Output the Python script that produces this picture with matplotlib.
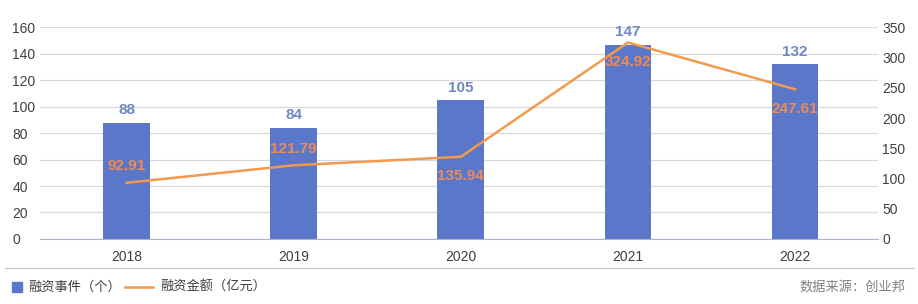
import matplotlib
matplotlib.use('Agg')
import matplotlib.pyplot as plt
from matplotlib.lines import Line2D
from matplotlib.patches import Rectangle

plt.rcParams['font.family'] = ['Liberation Sans', 'Noto Sans CJK SC', 'DejaVu Sans']

years = ['2018', '2019', '2020', '2021', '2022']
events = [88, 84, 105, 147, 132]
amounts = [92.91, 121.79, 135.94, 324.92, 247.61]
# label offset direction for the line labels: +1 above, -1 below
amount_pos = [1, 1, -1, -1, -1]

bar_color = '#5B77C9'
line_color = '#F29A4E'
bar_text = '#7088C6'
line_text = '#EE8B55'

W, H = 918, 304
fig = plt.figure(figsize=(W / 100, H / 100), dpi=100)
ax = fig.add_axes([0.0436, 0.214, 0.913, 0.696])
ax2 = ax.twinx()

x = list(range(len(years)))
ax.bar(x, events, width=0.28, color=bar_color, zorder=2)
ax2.plot(x, amounts, color=line_color, lw=1.8, zorder=3)

ax.set_ylim(0, 160)
ax.set_yticks(range(0, 161, 20))
ax2.set_ylim(0, 350)
ax2.set_yticks(range(0, 351, 50))
ax.set_xlim(-0.518, 4.497)
ax.set_xticks(x)
ax.set_xticklabels(years)

ax.grid(axis='y', color='#D9D9D9', lw=0.9, zorder=0)
ax.set_axisbelow(True)
for a in (ax, ax2):
    for s in ('top', 'left', 'right'):
        a.spines[s].set_visible(False)
    a.tick_params(length=0, labelsize=10, colors='#404040')
ax.spines['bottom'].set_color('#AAB4CC')
ax2.spines['bottom'].set_visible(False)
ax.tick_params(axis='y', pad=20)
ax.tick_params(axis='x', pad=8)
ax2.tick_params(axis='y', pad=3)
for lbl in ax.get_yticklabels():
    lbl.set_horizontalalignment('left')

for xi, v in zip(x, events):
    ax.annotate(str(v), (xi, v), xytext=(0, 4), textcoords='offset points',
                ha='center', va='bottom', fontsize=11, fontweight='bold', color=bar_text)

for xi, v, p in zip(x, amounts, amount_pos):
    off = 7 if p > 0 else -9
    ax2.annotate(f'{v:.2f}', (xi, v), xytext=(0, off), textcoords='offset points',
                 ha='center', va='bottom' if p > 0 else 'top',
                 fontsize=11, fontweight='bold', color=line_text)

# separator line under the plot
fig.add_artist(Line2D([0.005, 0.995], [0.117, 0.117], color='#C8C8C8', lw=1))

# legend drawn by hand (figure pixel positions)
ly = 1 - 287 / H
fig.add_artist(Rectangle((12 / W, 1 - 292 / H), 10 / W, 10 / H,
                         color=bar_color, transform=fig.transFigure))
fig.text(28 / W, ly, '融资事件（个）', ha='left', va='center', fontsize=9.5, color='#404040')
fig.add_artist(Line2D([125 / W, 153 / W], [ly, ly], color=line_color, lw=1.8))
fig.text(160 / W, ly, '融资金额（亿元）', ha='left', va='center', fontsize=9.5, color='#404040')
fig.text(0.986, ly, '数据来源：创业邦', ha='right', va='center',
         fontsize=9.5, color='#808080')

fig.savefig('out.png', dpi=100)
